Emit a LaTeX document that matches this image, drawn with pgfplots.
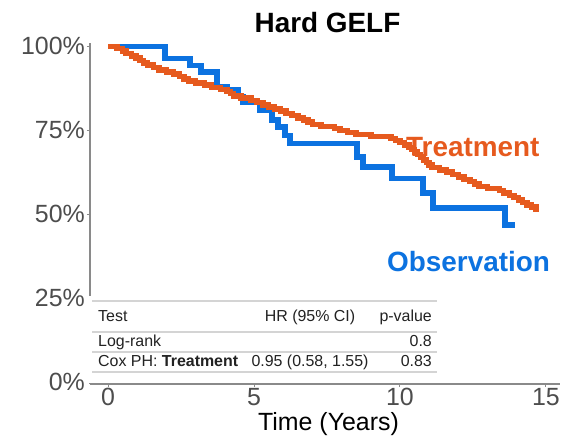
\documentclass[border=0pt]{standalone}
\usepackage{fontspec}
\setmainfont{Liberation Sans}
\usepackage{pgfplots}
\pgfplotsset{compat=1.18}
\definecolor{trt}{HTML}{E65A1E}
\definecolor{obs}{HTML}{0C72E0}
\definecolor{axgray}{HTML}{8A8A8A}
\definecolor{lblgray}{HTML}{4D4D4D}
\definecolor{tblline}{HTML}{D4D4D4}
\definecolor{tbltext}{HTML}{222222}
\begin{document}
\begin{tikzpicture}
\useasboundingbox (0,0) rectangle (561bp,436bp);
\begin{axis}[
  at={(90bp,52bp)}, anchor=south west,
  scale only axis, width=470bp, height=341bp,
  xmin=-0.617, xmax=15.48, ymin=-0.6, ymax=101,
  axis x line*=bottom, axis y line*=left,
  axis line style={axgray, line width=1.4bp},
  tick style={axgray, line width=1bp},
  tick align=outside, major tick length=3bp,
  xtick={0,5,10,15}, xticklabels={0,5,10,15},
  ytick={0,25,50,75,100}, yticklabels={0\%,25\%,50\%,75\%,100\%},
  ticklabel style={font=\fontsize{25}{25}\selectfont, text=lblgray, inner sep=0pt},
  xticklabel style={anchor=north, yshift=-1bp},
  yticklabel style={anchor=east, xshift=-2bp},
  clip=false,
]
\addplot[const plot, obs, line width=5.5bp] coordinates {
(0,100) (1.95,96.4) (2.81,94.3) (3.18,92.3) (3.73,88.1) (4.1,87.2) (4.45,85.0) (4.62,83.3)
(5.2,81.0) (5.62,78.0) (5.82,75.9) (6.06,73.5) (6.23,71.1) (8.53,67.0) (8.73,64.0)
(9.73,60.7) (10.79,56.3) (11.13,51.8) (13.6,46.7) (13.94,46.7)
};
\addplot[const plot, trt, line width=5.5bp] coordinates {
(0,100) (0.3,99.3) (0.5,98.6) (0.62,97.9) (0.8,97.2) (0.95,96.5) (1.1,95.8) (1.22,95.1)
(1.35,94.4) (1.55,93.7) (1.75,93.0) (2.0,92.4) (2.25,91.7) (2.45,91.0) (2.6,90.3)
(2.75,89.7) (3.0,89.1) (3.3,88.5) (3.55,87.8) (3.85,87.2) (4.08,86.6) (4.2,85.9)
(4.3,85.2) (4.55,84.6) (4.9,83.9) (5.1,83.3) (5.3,82.6) (5.5,82.0) (5.7,81.3)
(5.9,80.7) (6.1,80.0) (6.3,79.4) (6.5,78.7) (6.7,78.0) (6.85,77.4) (7.0,76.7)
(7.3,76.1) (7.75,75.5) (7.95,74.9) (8.2,74.3) (8.5,73.7) (9.0,73.2) (9.7,72.6)
(9.85,72.0) (10.0,71.3) (10.15,70.6) (10.3,69.9) (10.4,69.2) (10.5,68.5) (10.6,67.8)
(10.7,67.0) (10.8,66.2) (10.9,65.4) (11.0,64.6) (11.1,63.9) (11.35,63.2) (11.6,62.5)
(11.8,61.8) (12.0,61.1) (12.2,60.4) (12.4,59.7) (12.55,59.0) (12.7,58.3) (13.0,57.6)
(13.4,57.0) (13.55,56.3) (13.75,55.6) (13.9,54.9) (14.05,54.2) (14.2,53.5) (14.35,52.8)
(14.5,52.1) (14.65,51.4) (14.75,51.4)
};
\end{axis}
% title and labels
\node[anchor=base, inner sep=0pt, font=\bfseries\fontsize{28}{28}\selectfont] at (327.5bp,403bp) {Hard GELF};
\node[anchor=base, inner sep=0pt, font=\fontsize{25}{25}\selectfont] at (328.5bp,6bp) {Time (Years)};
\node[anchor=base west, inner sep=0pt, text=trt, font=\bfseries\fontsize{28}{28}\selectfont] at (406bp,279bp) {Treatment};
\node[anchor=base west, inner sep=0pt, text=obs, font=\bfseries\fontsize{28}{28}\selectfont] at (387bp,164bp) {Observation};
% table
\fill[white] (85bp,53bp) rectangle (440bp,140bp);
\foreach \yy in {135,104,84,64} {\draw[tblline, line width=2bp] (92bp,\yy bp) -- (437bp,\yy bp);}
\begin{scope}[every node/.style={inner sep=0pt, text=tbltext, font=\fontsize{16}{16}\selectfont}]
\node[anchor=base west] at (98bp,114bp) {Test};
\node[anchor=base] at (310bp,114bp) {HR (95\% CI)};
\node[anchor=base east] at (432bp,114bp) {p-value};
\node[anchor=base west] at (98bp,89bp) {Log-rank};
\node[anchor=base east] at (432bp,89bp) {0.8};
\node[anchor=base west] at (98bp,69bp) {Cox PH: \textbf{Treatment}};
\node[anchor=base] at (310bp,69bp) {0.95 (0.58, 1.55)};
\node[anchor=base east] at (432bp,69bp) {0.83};
\end{scope}
\end{tikzpicture}
\end{document}
